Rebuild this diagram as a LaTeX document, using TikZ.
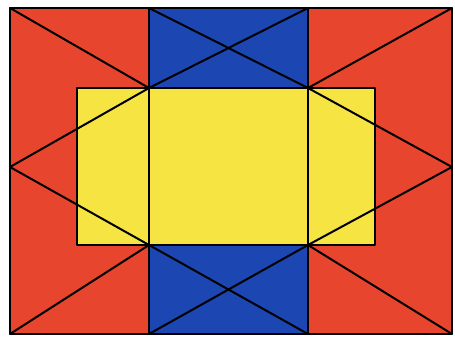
\documentclass[tikz,border=0pt]{standalone}
\definecolor{cred}{HTML}{E8452E}
\definecolor{cblue}{HTML}{1C46B2}
\definecolor{cyellow}{HTML}{F6E443}
\begin{document}
\begin{tikzpicture}[x=1pt,y=-1pt,line join=round,line cap=round,
  edge/.style={draw=black,line width=2pt},
  thin edge/.style={draw=black,line width=1.4pt}]
\useasboundingbox[fill=white] (0,0) rectangle (455,338);
% named points
\coordinate (TL) at (10,8);
\coordinate (TR) at (452,8);
\coordinate (BL) at (10,334);
\coordinate (BR) at (452,334);
\coordinate (LM) at (10,167);
\coordinate (RM) at (452,167);
\coordinate (A) at (149,88);
\coordinate (B) at (308,88);
\coordinate (C) at (149,245);
\coordinate (D) at (308,245);
\coordinate (BT1) at (149,8);
\coordinate (BT2) at (308,8);
\coordinate (BB1) at (149,334);
\coordinate (BB2) at (308,334);
% fills
\fill[cred] (TL) rectangle (BR);
\fill[cblue] (BT1) rectangle (BB2);
\fill[cyellow] (77,88) rectangle (375,245);
% region borders
\draw[thin edge] (77,88) rectangle (375,245);
\draw[thin edge] (BT1) -- (BB1) (BT2) -- (BB2);
% diagonals
\draw[edge] (TL) -- (A) -- (LM) -- (C) -- (BL);
\draw[edge] (TR) -- (B) -- (RM) -- (D) -- (BR);
\draw[edge] (BT1) -- (B) (BT2) -- (A);
\draw[edge] (C) -- (BB2) (D) -- (BB1);
% outer frame
\draw[edge,line width=2.2pt] (TL) rectangle (BR);
\end{tikzpicture}
\end{document}
